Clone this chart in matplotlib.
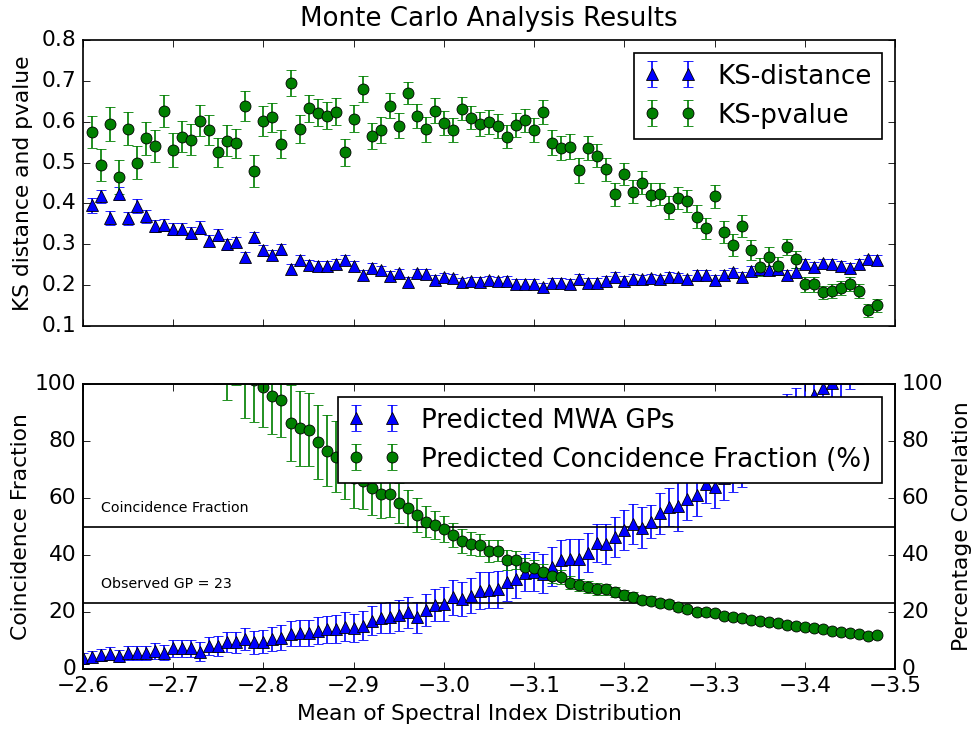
import numpy as np
import matplotlib
matplotlib.use("Agg")
import matplotlib.pyplot as plt

plt.style.use('classic')
plt.rcParams['font.family'] = ['DejaVu Sans']
plt.rcParams['font.size'] = 12.9

# ---------------- data ----------------
# spectral index grid (top panel starts at -2.61, bottom at -2.60)
x_top = np.round(np.arange(-2.61, -3.485, -0.01), 2)
x_bot = np.round(np.arange(-2.60, -3.485, -0.01), 2)

ks_pvalue = [0.575, 0.494, 0.594, 0.465, 0.583, 0.500, 0.559, 0.540, 0.626, 0.531,
             0.563, 0.556, 0.602, 0.580, 0.525, 0.554, 0.547, 0.639, 0.480, 0.602,
             0.611, 0.545, 0.695, 0.582, 0.633, 0.622, 0.615, 0.625, 0.525, 0.607,
             0.681, 0.566, 0.580, 0.639, 0.590, 0.670, 0.614, 0.581, 0.627, 0.597,
             0.580, 0.632, 0.610, 0.594, 0.599, 0.590, 0.563, 0.592, 0.603, 0.580,
             0.623, 0.549, 0.536, 0.539, 0.481, 0.536, 0.517, 0.484, 0.422, 0.472,
             0.429, 0.451, 0.421, 0.424, 0.390, 0.413, 0.407, 0.368, 0.339, 0.417,
             0.329, 0.298, 0.345, 0.286, 0.244, 0.270, 0.246, 0.293, 0.263, 0.202,
             0.202, 0.183, 0.186, 0.194, 0.203, 0.186, 0.138, 0.151]
ks_pvalue_err = [0.039, 0.040, 0.041, 0.042, 0.040, 0.040, 0.040, 0.039, 0.040, 0.041,
                 0.038, 0.038, 0.038, 0.037, 0.036, 0.037, 0.036, 0.037, 0.039, 0.036,
                 0.036, 0.035, 0.031, 0.034, 0.033, 0.033, 0.034, 0.034, 0.033, 0.033,
                 0.032, 0.032, 0.032, 0.031, 0.031, 0.027, 0.030, 0.031, 0.030, 0.030,
                 0.030, 0.029, 0.029, 0.030, 0.030, 0.029, 0.028, 0.029, 0.029, 0.029,
                 0.029, 0.030, 0.030, 0.030, 0.031, 0.029, 0.029, 0.028, 0.029, 0.028,
                 0.028, 0.028, 0.028, 0.027, 0.028, 0.027, 0.027, 0.027, 0.026, 0.027,
                 0.027, 0.027, 0.026, 0.025, 0.022, 0.024, 0.022, 0.019, 0.020, 0.018,
                 0.018, 0.016, 0.017, 0.017, 0.017, 0.017, 0.016, 0.016]

ks_distance = [0.395, 0.417, 0.364, 0.424, 0.364, 0.394, 0.369, 0.345, 0.347, 0.337,
               0.338, 0.328, 0.341, 0.309, 0.323, 0.300, 0.306, 0.269, 0.317, 0.285,
               0.274, 0.288, 0.239, 0.262, 0.249, 0.248, 0.248, 0.251, 0.262, 0.247,
               0.225, 0.243, 0.237, 0.223, 0.229, 0.208, 0.229, 0.228, 0.213, 0.219,
               0.217, 0.207, 0.209, 0.208, 0.212, 0.210, 0.211, 0.204, 0.203, 0.203,
               0.195, 0.206, 0.206, 0.204, 0.216, 0.206, 0.206, 0.211, 0.220, 0.211,
               0.216, 0.215, 0.217, 0.215, 0.221, 0.219, 0.215, 0.225, 0.225, 0.213,
               0.225, 0.231, 0.221, 0.235, 0.239, 0.237, 0.239, 0.225, 0.232, 0.252,
               0.245, 0.253, 0.252, 0.248, 0.243, 0.252, 0.263, 0.261]
ks_distance_err = [0.019, 0.017, 0.017, 0.015, 0.016, 0.018, 0.016, 0.015, 0.015, 0.014,
                   0.014, 0.014, 0.016, 0.014, 0.014, 0.014, 0.013, 0.013, 0.014, 0.013,
                   0.013, 0.013, 0.012, 0.012, 0.012, 0.012, 0.012, 0.012, 0.012, 0.012,
                   0.011, 0.011, 0.011, 0.011, 0.011, 0.011, 0.011, 0.011, 0.011, 0.011,
                   0.011, 0.011, 0.011, 0.011, 0.011, 0.011, 0.011, 0.011, 0.011, 0.011,
                   0.011, 0.011, 0.011, 0.011, 0.011, 0.011, 0.011, 0.011, 0.011, 0.011,
                   0.011, 0.011, 0.011, 0.011, 0.011, 0.011, 0.011, 0.011, 0.011, 0.011,
                   0.011, 0.011, 0.011, 0.011, 0.011, 0.011, 0.011, 0.011, 0.011, 0.011,
                   0.011, 0.011, 0.011, 0.011, 0.011, 0.012, 0.012, 0.012]

mwa_gps = [3.7, 4.3, 4.9, 5.3, 4.6, 5.5, 5.7, 5.5, 6.4, 5.7, 7.3, 7.3,
           7.3, 6.1, 8.1, 8.2, 9.4, 9.4, 10.4, 9.4, 9.6, 10.4, 11.0, 12.3,
           12.7, 12.5, 13.5, 13.9, 13.9, 14.9, 14.3, 15.2, 17.0, 17.8, 18.1, 18.9,
           19.9, 18.1, 20.7, 22.5, 22.8, 25.1, 24.6, 25.7, 27.5, 27.8,
           28.0, 30.4, 31.6, 33.8, 34.2, 33.5, 35.9, 38.2, 38.6, 38.6, 40.8, 44.1,
           43.9, 46.4, 48.8, 50.9, 49.6, 51.7, 54.6, 56.8, 57.3, 59.8, 61.1, 64.8, 64.0,
           67.0, 70.0, 72.0, 74.0, 77.0, 80.0, 84.0, 88.0, 90.0, 92.0, 96.0, 98.5,
           100.5, 103.0, 107.0, 109.0, 112.0, 115.0]
mwa_gps_err = [2.0, 2.0, 2.2, 2.3, 2.2, 2.4, 2.5, 2.5, 2.8, 2.7, 3.0, 3.0,
               3.0, 3.2, 3.3, 3.5, 3.6, 3.7, 3.9, 4.0, 4.0, 4.2, 4.3, 4.4,
               4.5, 4.6, 4.7, 4.8, 4.9, 5.0, 5.0, 5.1, 5.2, 5.3, 5.3, 5.4,
               5.5, 5.5, 5.6, 5.6, 5.8, 6.0, 6.0, 6.2, 6.4, 6.4, 6.5, 6.5,
               6.6, 6.6, 6.7, 6.7, 6.8, 7.0, 7.0, 7.0, 6.8, 6.7, 6.9, 7.0,
               7.0, 7.1, 7.2, 5.8, 7.3, 6.7, 9.0, 7.5, 7.5, 6.4, 7.6, 7.8,
               8.0, 8.0, 8.2, 8.2, 8.4, 8.4, 8.5, 8.5, 8.6, 8.6, 8.7, 8.7,
               8.8, 8.8, 8.9, 8.9, 9.0]

coinc_frac = [190, 184, 178, 172, 166, 160, 155, 150, 145, 140, 135, 130,
              126, 122, 118, 114, 108, 113,
              102, 101.4, 98.8, 95.8, 94.4, 86.2, 84.4, 83.9, 79.5, 76.6, 74.5, 71.0,
              66.9, 66.0, 63.5, 61.4, 61.4, 58.1, 56.4, 54.0, 51.7, 50.5, 49.2, 47.1,
              44.8, 43.9, 43.4, 41.4,
              41.5, 38.2, 38.2, 35.9, 35.3, 34.1, 32.6, 32.4, 30.3, 29.5, 28.9, 28.1,
              28.0, 27.0, 26.0, 25.3, 24.2, 24.0, 23.3, 22.7, 21.6, 20.9,
              20.1, 20.0, 19.5, 18.6, 18.2, 17.8, 17.2, 16.7, 16.4, 16.0, 15.5, 15.2,
              14.7, 14.5, 14.0, 13.4, 13.1, 12.7, 12.2, 11.7, 11.8]
coinc_frac_err = [16, 16, 16, 16, 16, 16, 15, 15, 15, 15, 15, 15,
                  14, 14, 14, 14, 13.5, 13.5,
                  14.0, 14.8, 13.8, 13.3, 13.1, 13.3, 13.0, 12.8, 13.0, 12.5, 12.5, 11.5,
                  10.5, 10.0, 9.5, 8.5, 8.0, 7.0, 6.5, 6.0, 5.5, 5.0, 4.5, 4.3,
                  4.2, 4.0, 3.9, 3.8, 3.6, 3.4, 3.2, 3.0, 2.8, 2.6, 2.5, 2.4,
                  2.3, 2.2, 2.1, 2.0, 1.9, 1.8, 1.7, 1.6, 1.5, 1.5, 1.4, 1.4,
                  1.3, 1.3, 1.2, 1.2, 1.1, 1.1, 1.0, 1.0, 1.0, 0.9, 0.9, 0.9,
                  0.9, 0.8, 0.8, 0.8, 0.8, 0.8, 0.7, 0.7, 0.7, 0.7, 0.7]

coincidence_level = 50
observed_gp = 23
top_yticks = [0.1, 0.2, 0.3, 0.4, 0.5, 0.6, 0.7, 0.8]
bot_yticks = [0, 20, 40, 60, 80, 100]
xticks = [-2.6, -2.7, -2.8, -2.9, -3.0, -3.1, -3.2, -3.3, -3.4, -3.5]

# ---------------- figure ----------------
fig = plt.figure(figsize=(971 / 121.5, 6), dpi=121.5, facecolor='white')

ax1 = fig.add_axes([83 / 971, 1 - 326 / 729, 812 / 971, 286 / 729])
ax2 = fig.add_axes([83 / 971, 1 - 669 / 729, 812 / 971, 285 / 729])

ax1.errorbar(x_top, ks_distance, yerr=ks_distance_err, fmt='^', color='b',
             ecolor='b', mec='k', mew=0.5, ms=7, capsize=3, label='KS-distance')
ax1.errorbar(x_top, ks_pvalue, yerr=ks_pvalue_err, fmt='o', color='g',
             ecolor='g', mec='k', mew=0.5, ms=6.5, capsize=3, label='KS-pvalue')
ax1.set_xlim(-2.6, -3.5)
ax1.set_ylim(0.1, 0.8)
ax1.set_yticks(top_yticks)
ax1.set_xticks(xticks)
ax1.tick_params(labelbottom=False)
ax1.set_ylabel('KS distance and pvalue')
ax1.set_title('Monte Carlo Analysis Results', pad=8)
ax1.legend(loc='upper right', numpoints=2)

ax2.errorbar(x_bot, mwa_gps, yerr=mwa_gps_err, fmt='^', color='b',
             ecolor='b', mec='k', mew=0.5, ms=7, capsize=3,
             label='Predicted MWA GPs')
ax2.errorbar(x_bot, coinc_frac, yerr=coinc_frac_err, fmt='o', color='g',
             ecolor='g', mec='k', mew=0.5, ms=6.5, capsize=3,
             label='Predicted Concidence Fraction (%)')
ax2.axhline(coincidence_level, color='k', lw=1.0)
ax2.axhline(observed_gp, color='k', lw=1.0)
ax2.text(-2.62, 55, 'Coincidence Fraction', fontsize=8.4)
ax2.text(-2.62, 28.5, 'Observed GP = 23', fontsize=8.4)
ax2.set_xlim(-2.6, -3.5)
ax2.set_ylim(0, 100)
ax2.set_yticks(bot_yticks)
ax2.set_xticks(xticks)
ax2.set_xlabel('Mean of Spectral Index Distribution')
ax2.set_ylabel('Coincidence Fraction', labelpad=2)

ax3 = ax2.twinx()
ax3.set_ylim(0, 100)
ax3.set_yticks(bot_yticks)
ax3.set_ylabel('Percentage Correlation')
ax3.set_xlim(-2.6, -3.5)

leg = ax2.legend(loc='upper right', numpoints=2)
leg.set_zorder(10)

fig.savefig('out.png', dpi=121.5, facecolor='white')
